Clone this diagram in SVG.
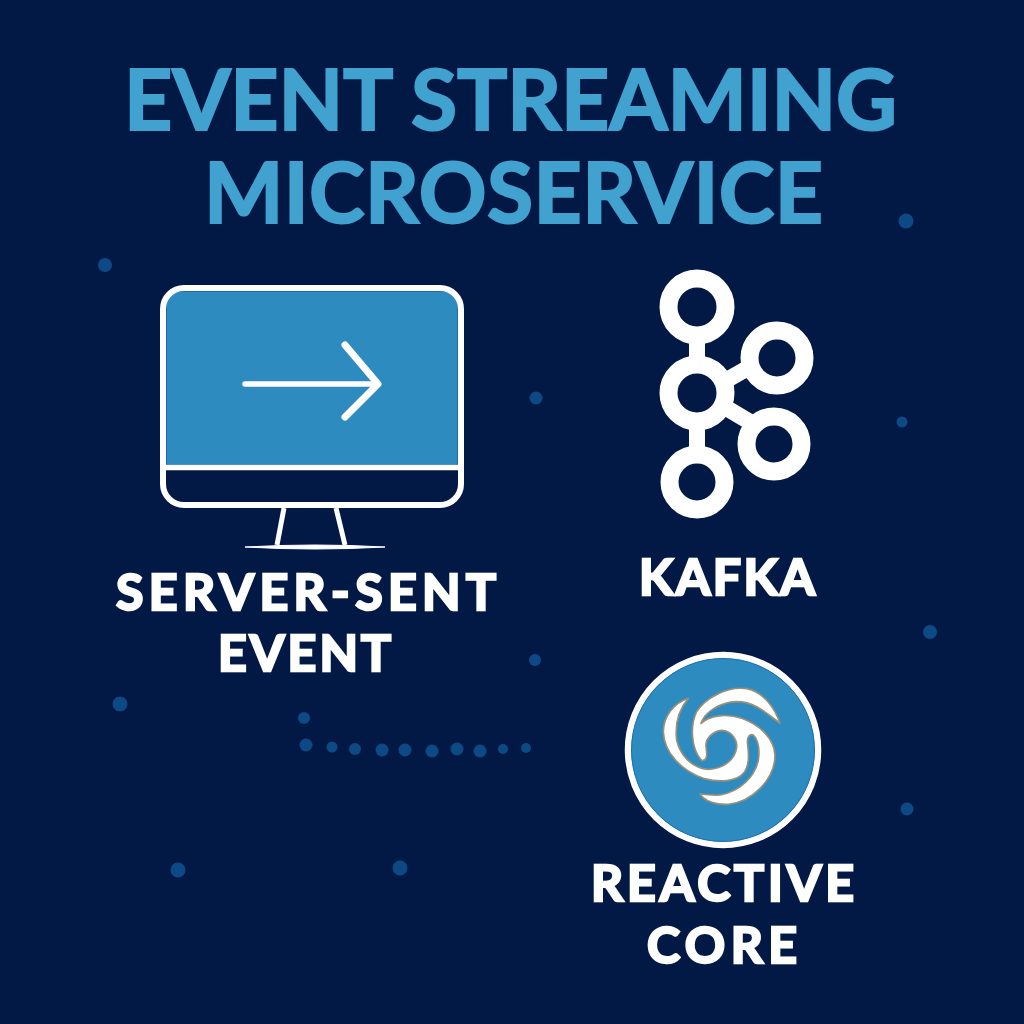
<svg xmlns="http://www.w3.org/2000/svg" width="1024" height="1024" viewBox="0 0 1024 1024">
<style>
.title{font-family:"Lato","Open Sans","Liberation Sans",sans-serif;font-weight:700;font-size:84px;fill:#41a2d0;stroke:#41a2d0;stroke-width:2}
.label{font-family:"Lato","Open Sans","Liberation Sans",sans-serif;font-weight:700;font-size:50px;fill:#fff;stroke:#fff;stroke-width:2.5}
.dot{fill:#0d4a85}
.line{fill:none;stroke:#fff;stroke-linecap:round;stroke-linejoin:round}
.ring{fill:none;stroke:#fff;stroke-width:18}
.link{stroke:#fff;stroke-width:16}
</style>
<rect width="1024" height="1024" fill="#021945"/>
<g id="background-dots">
<circle class="dot" cx="105" cy="265" r="7"/><circle class="dot" cx="906" cy="221" r="7.5"/>
<circle class="dot" cx="536" cy="398" r="6.5"/><circle class="dot" cx="902" cy="422" r="5.5"/>
<circle class="dot" cx="535" cy="660" r="6"/><circle class="dot" cx="930" cy="632" r="7"/>
<circle class="dot" cx="120" cy="704" r="7.5"/><circle class="dot" cx="907" cy="809" r="6.5"/>
<circle class="dot" cx="178" cy="870" r="7.5"/><circle class="dot" cx="400" cy="868" r="7.5"/>
<circle class="dot" cx="304" cy="718" r="6"/><circle class="dot" cx="306" cy="745" r="6.5"/>
<circle class="dot" cx="332" cy="747" r="5.5"/><circle class="dot" cx="355" cy="749" r="6"/>
<circle class="dot" cx="382" cy="750" r="6.5"/><circle class="dot" cx="405" cy="750" r="6.5"/>
<circle class="dot" cx="432" cy="751" r="6.5"/><circle class="dot" cx="457" cy="749" r="6.5"/>
<circle class="dot" cx="480" cy="751" r="6.5"/><circle class="dot" cx="503" cy="749" r="5"/>
<circle class="dot" cx="526" cy="748" r="5"/>
</g>
<g id="title">
<text class="title" x="124" y="130" textLength="773" lengthAdjust="spacing">EVENT STREAMING</text>
<text class="title" x="204" y="223" textLength="619" lengthAdjust="spacing">MICROSERVICE</text>
</g>
<g id="server-sent-event">
<path d="M166 465V305Q166 291 180 291H444Q458 291 458 305V465Z" fill="#2d8bc0" stroke="#0b4f9e" stroke-width="1"/>
<rect x="163" y="288" width="298" height="217" rx="21" fill="none" stroke="#fff" stroke-width="6"/>
<path d="M163 467.500H461" stroke="#fff" stroke-width="5.500"/>
<path class="line" stroke-width="7" d="M345 345L378 384L345 417"/>
<path class="line" stroke-width="5.500" d="M245 384H375"/>
<path d="M284 508L277 545M336 508L345 545" fill="none" stroke="#fff" stroke-width="5"/>
<path d="M245 547Q315 543 385 547Q315 551 245 547Z" fill="#fff" stroke="#fff" stroke-width="1"/>
<text class="label" x="116" y="610" textLength="380" lengthAdjust="spacing">SERVER-SENT</text>
<text class="label" x="218" y="671" textLength="173" lengthAdjust="spacing">EVENT</text>
</g>
<g id="kafka">
<path class="link" d="M697 330V370M697 415V460M718 385L755 364M718 403L755 425"/>
<circle class="ring" cx="697" cy="307" r="28.500"/>
<circle class="ring" cx="777" cy="358" r="27.500"/>
<circle class="ring" cx="697" cy="393" r="28.500"/>
<circle class="ring" cx="774" cy="444" r="27.500"/>
<circle class="ring" cx="697" cy="482" r="27.500"/>
<text class="label" x="639" y="595" textLength="176" lengthAdjust="spacing">KAFKA</text>
</g>
<g id="reactive-core">
<circle cx="723" cy="750" r="95" fill="#2d8bc0" stroke="#fff" stroke-width="6.500"/>
<circle cx="723" cy="750" r="91.500" fill="none" stroke="#1a6fb5" stroke-width="1"/>
<path transform="translate(620 670) scale(.33333)" fill="#fff" stroke="#9a9078" stroke-width="5" stroke-linejoin="round" d="M480 160C465 115 430 65 380 56C320 48 255 85 230 125C210 165 212 235 245 272C262 272 262 255 258 230C255 205 280 183 305 181C335 182 352 210 350 232C345 270 310 297 265 298C215 295 180 255 170 210C165 165 175 120 205 85C160 100 130 140 130 185C132 245 180 300 250 325C300 338 350 335 370 310C392 285 385 240 382 215C382 200 390 190 400 195C415 210 420 240 415 270C405 320 360 365 300 375C275 376 255 374 240 372C255 395 290 405 325 403C395 395 465 330 465 255C462 205 420 165 365 145C320 130 270 135 243 160C255 125 300 97 350 95C405 95 440 130 480 160Z"/>
<text class="label" x="591" y="901" textLength="263" lengthAdjust="spacing">REACTIVE</text>
<text class="label" x="647" y="963" textLength="150" lengthAdjust="spacing">CORE</text>
</g>
</svg>
